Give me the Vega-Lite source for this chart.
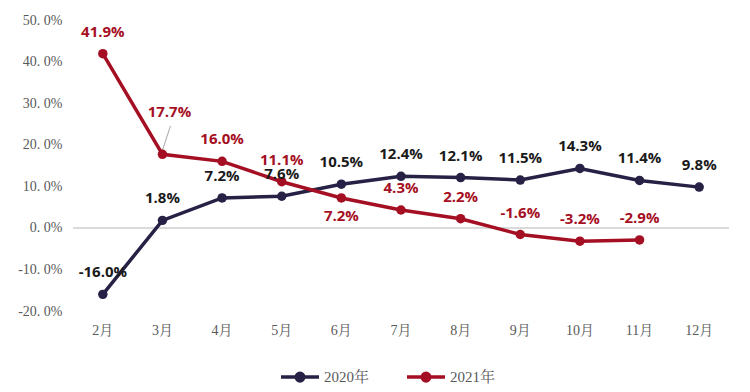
{
  "$schema": "https://vega.github.io/schema/vega-lite/v6.json",
  "width": 656,
  "height": 291,
  "autosize": {"type": "none"},
  "padding": {"left": 73, "top": 20, "right": 21, "bottom": 81},
  "background": "white",
  "config": {"view": {"stroke": null}},
  "data": {
    "values": [
      {"month": "2月", "series": "2020年", "value": -0.160},
      {"month": "3月", "series": "2020年", "value": 0.018},
      {"month": "4月", "series": "2020年", "value": 0.072},
      {"month": "5月", "series": "2020年", "value": 0.076},
      {"month": "6月", "series": "2020年", "value": 0.105},
      {"month": "7月", "series": "2020年", "value": 0.124},
      {"month": "8月", "series": "2020年", "value": 0.121},
      {"month": "9月", "series": "2020年", "value": 0.115},
      {"month": "10月", "series": "2020年", "value": 0.143},
      {"month": "11月", "series": "2020年", "value": 0.114},
      {"month": "12月", "series": "2020年", "value": 0.098},
      {"month": "2月", "series": "2021年", "value": 0.419},
      {"month": "3月", "series": "2021年", "value": 0.177},
      {"month": "4月", "series": "2021年", "value": 0.160},
      {"month": "5月", "series": "2021年", "value": 0.111},
      {"month": "6月", "series": "2021年", "value": 0.072},
      {"month": "7月", "series": "2021年", "value": 0.043},
      {"month": "8月", "series": "2021年", "value": 0.022},
      {"month": "9月", "series": "2021年", "value": -0.016},
      {"month": "10月", "series": "2021年", "value": -0.032},
      {"month": "11月", "series": "2021年", "value": -0.029}
    ]
  },
  "transform": [
    {"calculate": "replace(format(datum.value, '.1%'), '\u2212', '-')", "as": "label"}
  ],
  "encoding": {
    "x": {
      "field": "month", "type": "ordinal",
      "sort": ["2月","3月","4月","5月","6月","7月","8月","9月","10月","11月","12月"],
      "scale": {"type": "band", "paddingInner": 0, "paddingOuter": 0},
      "axis": {
        "title": null, "domain": false, "ticks": false, "labelAngle": 0,
        "labelFont": "Liberation Serif, Noto Serif CJK SC, Noto Sans CJK SC",
        "labelFontSize": 14, "labelColor": "#595959", "labelPadding": 12
      }
    },
    "y": {
      "field": "value", "type": "quantitative",
      "scale": {"domain": [-0.2, 0.5], "nice": false, "zero": false},
      "axis": {
        "title": null, "domain": false, "ticks": false, "grid": false,
        "values": [-0.2, -0.1, 0, 0.1, 0.2, 0.3, 0.4, 0.5],
        "labelExpr": "replace(replace(format(datum.value, '.1%'), '.', '. '), '\u2212', '-')",
        "labelFont": "Liberation Serif", "labelFontSize": 14,
        "labelColor": "#595959", "labelPadding": 11
      }
    }
  },
  "layer": [
    {
      "mark": {"type": "rule", "color": "#d9d9d9", "strokeWidth": 1},
      "encoding": {"x": null, "y": {"datum": 0}}
    },
    {
      "transform": [{"filter": "datum.series === '2021年' && datum.month === '3月'"}],
      "mark": {"type": "rule", "color": "#a6a6a6", "strokeWidth": 1, "yOffset": -4, "x2Offset": 8},
      "encoding": {
        "x2": {"field": "month"},
        "y2": {"datum": 0.245}
      }
    },
    {
      "mark": {"type": "line", "strokeWidth": 3.5, "point": {"size": 90, "filled": true}},
      "encoding": {
        "color": {
          "field": "series", "type": "nominal",
          "scale": {"domain": ["2020年", "2021年"], "range": ["#262145", "#a50f23"]},
          "legend": {
            "title": null, "orient": "none", "direction": "horizontal",
            "legendX": 206, "legendY": 336,
            "symbolType": "M-1,0H1M0.2,0A0.2,0.2,0,1,1,-0.2,0A0.2,0.2,0,1,1,0.2,0",
            "symbolSize": 1444, "symbolStrokeWidth": 3.5,
            "labelFont": "Liberation Serif, Noto Serif CJK SC, Noto Sans CJK SC",
            "labelFontSize": 15, "labelColor": "#595959", "labelOffset": 3,
            "columnPadding": 30,
            "encode": {"symbols": {"update": {"fill": {"scale": "color", "field": "value"}, "fillOpacity": {"value": 1}}}}
          }
        }
      }
    },
    {
      "transform": [{"filter": "datum.series === '2020年'"}],
      "mark": {"type": "text", "dy": -22, "baseline": "middle", "font": "Open Sans", "fontWeight": "bold", "fontSize": 15, "color": "#1a1a1a"},
      "encoding": {"text": {"field": "label"}}
    },
    {
      "transform": [{"filter": "datum.series === '2021年' && datum.month !== '6月' && datum.month !== '3月'"}],
      "mark": {"type": "text", "dy": -22, "baseline": "middle", "font": "Open Sans", "fontWeight": "bold", "fontSize": 15, "color": "#a50f23"},
      "encoding": {"text": {"field": "label"}}
    },
    {
      "transform": [{"filter": "datum.series === '2021年' && datum.month === '6月'"}],
      "mark": {"type": "text", "dy": 18, "baseline": "middle", "font": "Open Sans", "fontWeight": "bold", "fontSize": 15, "color": "#a50f23"},
      "encoding": {"text": {"field": "label"}}
    },
    {
      "transform": [{"filter": "datum.series === '2021年' && datum.month === '3月'"}],
      "mark": {"type": "text", "dy": -42, "dx": 7, "baseline": "middle", "font": "Open Sans", "fontWeight": "bold", "fontSize": 15, "color": "#a50f23"},
      "encoding": {"text": {"field": "label"}}
    }
  ]
}
